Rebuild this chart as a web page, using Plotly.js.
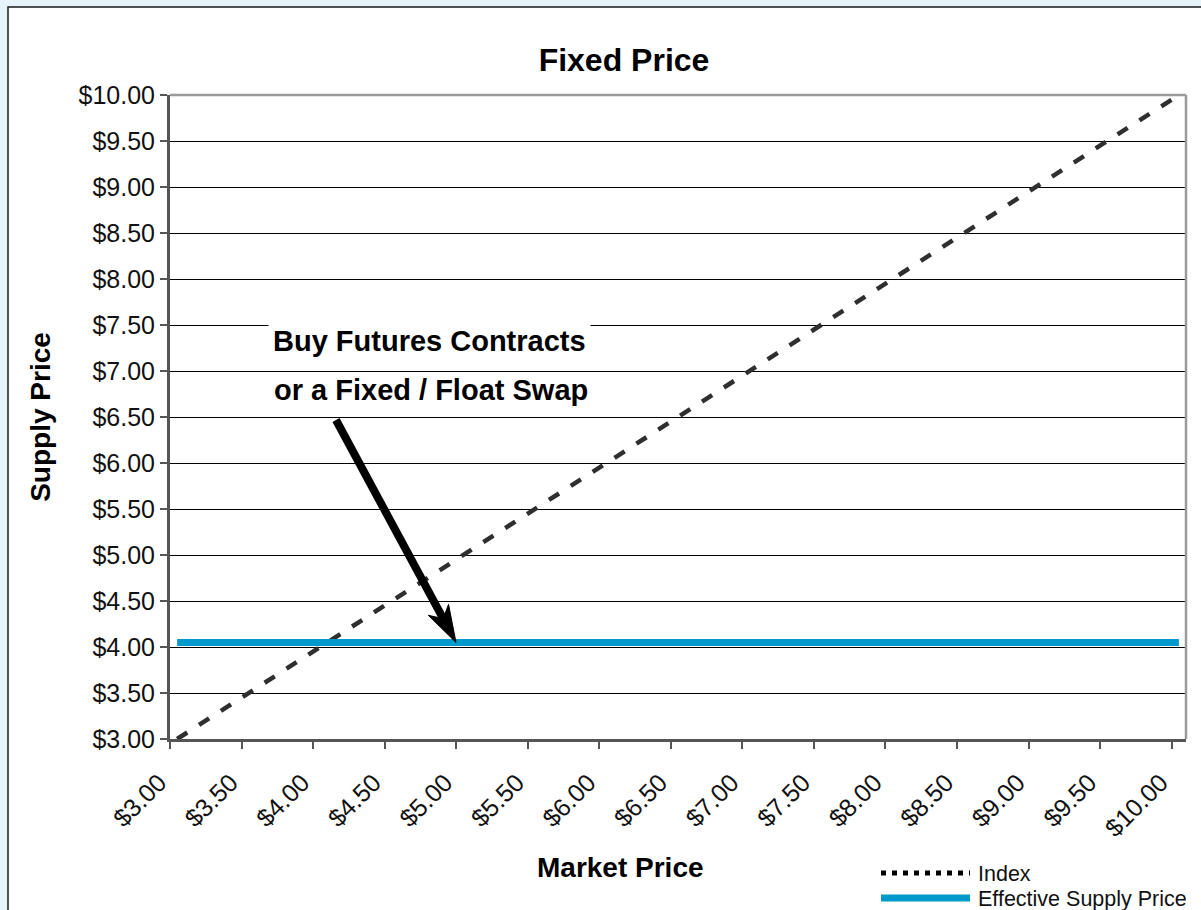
<!DOCTYPE html>
<html>
<head>
<meta charset="utf-8">
<script src="https://cdn.plot.ly/plotly-3.0.1.min.js"></script>
<style>
  html, body { margin: 0; padding: 0; background: #e6f3fb; }
  #chart { width: 1201px; height: 910px; }
</style>
</head>
<body>
<div id="chart"></div>
<script>
// Market price points, $0.10 apart
const marketPrice = [
  3.0, 3.1, 3.2, 3.3, 3.4, 3.5, 3.6, 3.7, 3.8, 3.9,
  4.0, 4.1, 4.2, 4.3, 4.4, 4.5, 4.6, 4.7, 4.8, 4.9,
  5.0, 5.1, 5.2, 5.3, 5.4, 5.5, 5.6, 5.7, 5.8, 5.9,
  6.0, 6.1, 6.2, 6.3, 6.4, 6.5, 6.6, 6.7, 6.8, 6.9,
  7.0, 7.1, 7.2, 7.3, 7.4, 7.5, 7.6, 7.7, 7.8, 7.9,
  8.0, 8.1, 8.2, 8.3, 8.4, 8.5, 8.6, 8.7, 8.8, 8.9,
  9.0, 9.1, 9.2, 9.3, 9.4, 9.5, 9.6, 9.7, 9.8, 9.9,
  10.0
];

// Index price follows the market one for one
const indexPrice = [
  3.0, 3.1, 3.2, 3.3, 3.4, 3.5, 3.6, 3.7, 3.8, 3.9,
  4.0, 4.1, 4.2, 4.3, 4.4, 4.5, 4.6, 4.7, 4.8, 4.9,
  5.0, 5.1, 5.2, 5.3, 5.4, 5.5, 5.6, 5.7, 5.8, 5.9,
  6.0, 6.1, 6.2, 6.3, 6.4, 6.5, 6.6, 6.7, 6.8, 6.9,
  7.0, 7.1, 7.2, 7.3, 7.4, 7.5, 7.6, 7.7, 7.8, 7.9,
  8.0, 8.1, 8.2, 8.3, 8.4, 8.5, 8.6, 8.7, 8.8, 8.9,
  9.0, 9.1, 9.2, 9.3, 9.4, 9.5, 9.6, 9.7, 9.8, 9.9,
  10.0
];

// Locked-in supply price after hedging
const effectiveSupplyPrice = [
  4.05, 4.05, 4.05, 4.05, 4.05, 4.05, 4.05, 4.05, 4.05, 4.05,
  4.05, 4.05, 4.05, 4.05, 4.05, 4.05, 4.05, 4.05, 4.05, 4.05,
  4.05, 4.05, 4.05, 4.05, 4.05, 4.05, 4.05, 4.05, 4.05, 4.05,
  4.05, 4.05, 4.05, 4.05, 4.05, 4.05, 4.05, 4.05, 4.05, 4.05,
  4.05, 4.05, 4.05, 4.05, 4.05, 4.05, 4.05, 4.05, 4.05, 4.05,
  4.05, 4.05, 4.05, 4.05, 4.05, 4.05, 4.05, 4.05, 4.05, 4.05,
  4.05, 4.05, 4.05, 4.05, 4.05, 4.05, 4.05, 4.05, 4.05, 4.05,
  4.05
];

// Labelled market prices along the x axis
const tickPrices = [3.0, 3.5, 4.0, 4.5, 5.0, 5.5, 6.0, 6.5, 7.0, 7.5, 8.0, 8.5, 9.0, 9.5, 10.0];
const tickLabels = ['$3.00', '$3.50', '$4.00', '$4.50', '$5.00', '$5.50', '$6.00', '$6.50',
                    '$7.00', '$7.50', '$8.00', '$8.50', '$9.00', '$9.50', '$10.00'];

const seriesNames = ['Index', 'Effective Supply Price'];

const FONT = 'Liberation Sans, Arial, Helvetica, sans-serif';
const INDEX_COLOR = '#2f2f2f';
const SUPPLY_COLOR = '#0099cc';
const Y_RANGE = [3, 10];
const STEP = 0.1;   // spacing of the market price points
// half a step of padding on each side, tick marks sit between points
const X_RANGE = [marketPrice[0] - STEP / 2, marketPrice[marketPrice.length - 1] + STEP / 2];

// plot area in pixels, used to place paper-referenced decorations
const W = 1201, H = 910;
const M = { l: 170, r: 15, t: 95, b: 171 };
const pw = W - M.l - M.r, ph = H - M.t - M.b;
const px = v => (v - M.l) / pw;
const py = v => (H - M.b - v) / ph;
const yFrac = v => (v - Y_RANGE[0]) / (Y_RANGE[1] - Y_RANGE[0]);

// Callout arrow: tail below the text, tip resting on the effective supply line
function arrowShapes() {
  const tip = { x: 456, y: H - M.b - yFrac(effectiveSupplyPrice[0]) * ph };
  const tail = { x: 336, y: 420 };
  const len = Math.hypot(tip.x - tail.x, tip.y - tail.y);
  const d = { x: (tip.x - tail.x) / len, y: (tip.y - tail.y) / len };
  const n = { x: -d.y, y: d.x };
  const headLen = 37, halfW = 11.5, notch = 27;
  const back = { x: tip.x - headLen * d.x, y: tip.y - headLen * d.y };
  const b1 = { x: back.x + halfW * n.x, y: back.y + halfW * n.y };
  const b2 = { x: back.x - halfW * n.x, y: back.y - halfW * n.y };
  const nc = { x: tip.x - notch * d.x, y: tip.y - notch * d.y };
  const P = p => px(p.x).toFixed(5) + ',' + py(p.y).toFixed(5);
  return [
    { type: 'line', xref: 'paper', yref: 'paper',
      x0: px(tail.x), y0: py(tail.y), x1: px(nc.x + 2 * d.x), y1: py(nc.y + 2 * d.y),
      line: { color: '#000', width: 8 } },
    { type: 'path', xref: 'paper', yref: 'paper',
      path: 'M' + P(tip) + ' L' + P(b1) + ' L' + P(nc) + ' L' + P(b2) + ' Z',
      fillcolor: '#000', line: { color: '#000', width: 1 } }
  ];
}

const traces = [
  {
    type: 'scatter', mode: 'lines', name: seriesNames[0],
    x: marketPrice, y: indexPrice,
    line: { color: INDEX_COLOR, width: 4.5, dash: '12px,14px' },
    showlegend: false, hoverinfo: 'x+y'
  },
  {
    type: 'scatter', mode: 'lines', name: seriesNames[1],
    x: marketPrice, y: effectiveSupplyPrice,
    line: { color: SUPPLY_COLOR, width: 7 },
    showlegend: false, hoverinfo: 'x+y'
  }
];

const layout = {
  width: W, height: H,
  margin: M,
  paper_bgcolor: '#e6f3fb',
  plot_bgcolor: '#ffffff',
  font: { family: FONT, color: '#000000' },
  showlegend: false,
  title: {
    text: 'Fixed Price',
    font: { family: FONT, size: 32, weight: 700, color: '#000' },
    x: 624 / W, xref: 'container', xanchor: 'center',
    y: 1 - 60 / H, yref: 'container', yanchor: 'middle'
  },
  xaxis: {
    type: 'linear',
    range: X_RANGE,
    tickmode: 'array',
    tickvals: tickPrices,
    ticktext: tickLabels,
    tickangle: -45,
    tickfont: { family: FONT, size: 25, color: '#111' },
    ticks: '',
    minor: {
      tickmode: 'linear', tick0: X_RANGE[0], dtick: 0.5,
      ticks: 'outside', ticklen: 7, tickwidth: 2, tickcolor: '#555',
      showgrid: false
    },
    showgrid: false, zeroline: false,
    showline: true, linecolor: '#555', linewidth: 3,
    ticklabelstandoff: 16,
    ticklabelshift: -18
  },
  yaxis: {
    range: Y_RANGE,
    tickmode: 'linear', tick0: 3, dtick: 0.5,
    tickprefix: '$', tickformat: '.2f',
    tickfont: { family: FONT, size: 25, color: '#111' },
    ticks: 'outside', ticklen: 7, tickwidth: 2, tickcolor: '#555',
    showgrid: true, gridcolor: '#000000', gridwidth: 1,
    zeroline: false,
    showline: true, linecolor: '#555', linewidth: 3,
    title: {
      text: 'Supply Price',
      font: { family: FONT, size: 28, weight: 700, color: '#000' },
      standoff: 20
    }
  },
  shapes: [
    // white chart frame
    { type: 'rect', xref: 'paper', yref: 'paper', layer: 'below',
      x0: px(8), x1: px(1230), y0: py(940), y1: py(7),
      fillcolor: '#ffffff', line: { color: '#1a1a1a', width: 1.5 } },
    // grey plot border on top and right
    { type: 'line', xref: 'paper', yref: 'paper', layer: 'above',
      x0: 0, x1: 1, y0: 1, y1: 1, line: { color: '#9a9a9a', width: 2.5 } },
    { type: 'line', xref: 'paper', yref: 'paper', layer: 'above',
      x0: 1, x1: 1, y0: 0, y1: 1, line: { color: '#9a9a9a', width: 2.5 } },
    // legend samples
    { type: 'line', xref: 'paper', yref: 'paper',
      x0: px(881), x1: px(970), y0: py(873), y1: py(873),
      line: { color: '#000', width: 5, dash: '5px,6px' } },
    { type: 'line', xref: 'paper', yref: 'paper',
      x0: px(881), x1: px(970), y0: py(898), y1: py(898),
      line: { color: SUPPLY_COLOR, width: 7 } }
  ].concat(arrowShapes()),
  annotations: [
    // x axis title
    { text: 'Market Price', xref: 'paper', yref: 'paper',
      x: px(620), y: py(868), xanchor: 'center', yanchor: 'middle', showarrow: false,
      font: { family: FONT, size: 28, weight: 700, color: '#000' } },
    // legend labels
    { text: seriesNames[0], xref: 'paper', yref: 'paper',
      x: px(976), y: py(874), xanchor: 'left', yanchor: 'middle', showarrow: false,
      font: { family: FONT, size: 21.5, color: '#111' } },
    { text: seriesNames[1], xref: 'paper', yref: 'paper',
      x: px(976), y: py(899), xanchor: 'left', yanchor: 'middle', showarrow: false,
      font: { family: FONT, size: 21.5, color: '#111' } },
    // callout text
    { text: 'Buy Futures Contracts', xref: 'paper', yref: 'paper',
      x: px(429), y: py(341), xanchor: 'center', yanchor: 'middle', showarrow: false,
      bgcolor: '#ffffff', borderpad: 4,
      font: { family: FONT, size: 29, weight: 700, color: '#000' } },
    { text: 'or a Fixed / Float Swap', xref: 'paper', yref: 'paper',
      x: px(431), y: py(390), xanchor: 'center', yanchor: 'middle', showarrow: false,
      font: { family: FONT, size: 29, weight: 700, color: '#000' } }
  ]
};

Plotly.newPlot('chart', traces, layout, { displayModeBar: false, staticPlot: true });
</script>
</body>
</html>
